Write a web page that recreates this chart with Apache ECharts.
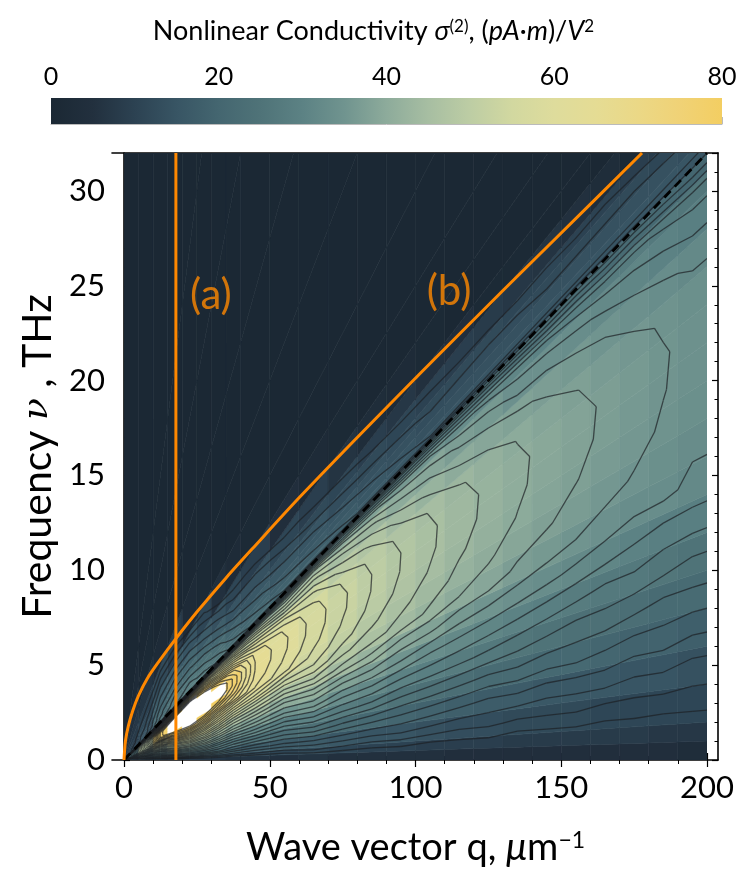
<!DOCTYPE html>
<html>
<head>
<meta charset="utf-8">
<script src="https://cdn.jsdelivr.net/npm/echarts@6/dist/echarts.min.js"></script>
<style>
html, body { margin: 0; padding: 0; background: #fff; }
#main { width: 747px; height: 873px; }
</style>
</head>
<body>
<div id="main"></div>
<script>
// columns: wave vector q (1/um), rows: slope nu/q (THz per 1/um)
var qEdges = [0, 5, 10, 15, 20, 25, 30, 35, 40, 50, 60, 70, 80, 90, 100, 110, 120, 130, 140, 150, 160, 170, 180, 190, 200];
var slopeEdges = [0, 0.005, 0.01, 0.02, 0.03, 0.04, 0.05, 0.06, 0.07, 0.08, 0.09, 0.10, 0.11, 0.12, 0.13, 0.14, 0.15, 0.155,
	0.16, 0.165, 0.17, 0.175, 0.18, 0.19, 0.20, 0.22, 0.25, 0.30, 0.40, 0.55, 0.80, 1.20, 1000];

// sigma(2), one row per slope band, one value per q column
var sigma = [
	[3, 5, 6, 8, 8, 8, 7, 6, 6, 5, 6, 5, 5, 5, 5, 4, 4, 4, 4, 4, 4, 4, 4, 3],
	[5, 11, 13, 16, 17, 16, 15, 13, 12, 11, 12, 11, 10, 10, 9, 9, 9, 8, 8, 8, 8, 8, 7, 7],
	[8, 16, 20, 25, 26, 25, 23, 20, 18, 17, 17, 16, 15, 15, 14, 13, 13, 12, 12, 12, 11, 11, 11, 11],
	[11, 21, 27, 33, 35, 34, 30, 27, 25, 23, 24, 22, 21, 20, 19, 18, 17, 17, 16, 16, 16, 15, 15, 14],
	[14, 27, 34, 42, 44, 42, 38, 34, 32, 29, 30, 28, 27, 25, 24, 23, 22, 22, 21, 21, 20, 19, 19, 18],
	[16, 32, 41, 49, 52, 50, 45, 41, 38, 35, 36, 33, 32, 30, 29, 28, 27, 26, 25, 24, 24, 23, 22, 22],
	[19, 37, 47, 57, 60, 57, 52, 47, 44, 40, 41, 38, 37, 35, 33, 32, 31, 30, 29, 28, 27, 27, 26, 25],
	[21, 42, 55, 66, 69, 65, 59, 54, 50, 46, 47, 44, 42, 39, 38, 36, 35, 34, 33, 32, 31, 30, 29, 29],
	[23, 47, 62, 74, 77, 73, 66, 61, 57, 52, 52, 48, 46, 44, 42, 40, 39, 37, 36, 35, 34, 33, 33, 32],
	[25, 49, 72, 80, 84, 80, 74, 69, 62.4, 58.1, 54.2, 50.9, 48.0, 45.6, 43.7, 41.8, 40.3, 38.9, 37.7, 36.7, 35.7, 34.8, 33.8, 32.9],
	[25, 50, 78, 88, 96, 88, 80, 74, 64.0, 59.6, 55.7, 52.2, 49.3, 46.8, 44.8, 42.8, 41.4, 39.9, 38.7, 37.6, 36.6, 35.7, 34.7, 33.8],
	[25, 50, 78, 92, 100, 96, 84, 77, 64.9, 60.4, 56.4, 52.9, 49.9, 47.4, 45.4, 43.4, 41.9, 40.4, 39.2, 38.1, 37.1, 36.1, 35.1, 34.2],
	[25, 50, 78, 90, 98, 95, 84, 77, 65, 60.5, 56.5, 53, 50, 47.5, 45.5, 43.5, 42, 40.5, 39.3, 38.2, 37.2, 36.2, 35.2, 34.3],
	[25, 49, 73, 83, 90, 84, 78, 73, 64.0, 59.6, 55.7, 52.2, 49.3, 46.8, 44.8, 42.8, 41.4, 39.9, 38.7, 37.6, 36.6, 35.7, 34.7, 33.8],
	[24, 47, 64, 74, 81, 76, 68, 64, 58, 55, 53, 49, 47, 44, 42, 40, 39, 38, 37, 36, 35, 34, 33, 32],
	[22, 43, 55, 64, 70, 66, 59, 55, 51, 47, 48, 45, 43, 40, 39, 37, 36, 34, 34, 33, 32, 31, 30, 29],
	[19, 39, 47, 55, 60, 57, 51, 47, 44, 41, 43, 40, 38, 36, 35, 33, 32, 31, 30, 29, 28, 28, 27, 26],
	[15, 30, 35, 42, 45, 43, 39, 35, 34, 31, 34, 32, 30, 28, 27, 26, 25, 24, 23, 23, 22, 22, 21, 20],
	[10, 15, 24, 28, 30, 29, 27, 24, 22, 20, 19, 18, 17, 16, 15, 15, 15, 15, 15, 15, 15, 15, 15, 15],
	[10, 15, 24, 27, 29, 28, 26, 23, 21, 19, 18, 17, 16, 15, 14, 14, 14, 14, 14, 14, 14, 14, 14, 13],
	[10, 15, 23, 27, 28, 27, 25, 22, 20, 18, 17, 16, 15, 14, 13, 13, 13, 13, 12, 12, 12, 12, 11, 11],
	[10, 15, 23, 26, 28, 26, 24, 21, 19, 17, 16, 15, 14, 13, 12, 12, 12, 11, 11, 10, 10, 9, 8, 7],
	[10, 14, 22, 26, 27, 25, 23, 20, 18, 16, 15, 13, 12, 11, 10, 9, 8, 7, 6, 5, 3, 1, 0, 0],
	[10, 14, 22, 25, 25, 24, 21, 18, 16, 14, 12, 11, 9, 7, 5, 4, 1, 1, 0, 0, 0, 0, 0, 0],
	[10, 14, 21, 23, 23, 21, 18, 15, 14, 11, 9, 6, 3, 2, 1, 0, 0, 0, 0, 0, 0, 0, 0, 0],
	[9, 13, 19, 21, 20, 17, 14, 11, 9, 4, 2, 1, 0, 0, 0, 0, 0, 0, 0, 0, 0, 0, 0, 0],
	[9, 12, 17, 17, 15, 11, 5, 2, 1, 0, 0, 0, 0, 0, 0, 0, 0, 0, 0, 0, 0, 0, 0, 0],
	[8, 10, 12, 9, 2, 1, 0, 0, 0, 0, 0, 0, 0, 0, 0, 0, 0, 0, 0, 0, 0, 0, 0, 0],
	[7, 6, 2, 0, 0, 0, 0, 0, 0, 0, 0, 0, 0, 0, 0, 0, 0, 0, 0, 0, 0, 0, 0, 0],
	[5, 1, 0, 0, 0, 0, 0, 0, 0, 0, 0, 0, 0, 0, 0, 0, 0, 0, 0, 0, 0, 0, 0, 0],
	[2, 0, 0, 0, 0, 0, 0, 0, 0, 0, 0, 0, 0, 0, 0, 0, 0, 0, 0, 0, 0, 0, 0, 0],
	[0, 0, 0, 0, 0, 0, 0, 0, 0, 0, 0, 0, 0, 0, 0, 0, 0, 0, 0, 0, 0, 0, 0, 0]
];

// contour levels drawn over the map
var contourLevels = [10, 12.5, 15, 17.5, 20, 22.5, 25, 27.5, 30, 32.5, 35, 37.5, 40, 42.5, 45, 47.5, 50,
	52.5, 55, 57.5, 60, 62.5, 65, 67.5, 70, 72.5, 75, 77.5, 80];

// colour bar, one colour every 5 units from 0 to 80
var barMin = 0;
var barMax = 80;
var barColors = ['#1b2834', '#22303e', '#2c4252', '#385564', '#446670', '#4f7378', '#5c8284', '#70948f',
	'#8dab9b', '#a7bea2', '#bdcda4', '#d2d8a0', '#dedc9c', '#e5dc94', '#ebd886', '#f0d276', '#f3ce62'];

// line (a): fixed q
var lineAq = [17.8, 17.8];
var lineAnu = [0, 32];
// line (b)
var lineBq = [0, 0.5, 1.5, 3, 5, 8, 12, 17.8, 25, 35, 45, 60.3, 80, 101.4, 130, 161.3, 177.7];
var lineBnu = [0, 1.0, 1.8, 2.6, 3.4, 4.3, 5.2, 6.4, 7.8, 9.6, 11.3, 13.86, 17.0, 20.35, 24.75, 29.5, 32];
// dashed line
var dashQ = [0, 200];
var dashNu = [0, 32];
// labels
var tagNames = ['(a)', '(b)'];
var tagQ = [29.8, 111.5];
var tagNu = [24.5, 24.7];

var orange = '#ff8800';
var font = 'Lato';

function colorOf(v) {
	if (v > barMax) return '#ffffff';
	return echarts.color.lerp((v - barMin) / (barMax - barMin), barColors);
}

var cells = [];
for (var j = 0; j < sigma.length; j++) {
	for (var i = 0; i < sigma[j].length; i++) {
		cells.push([i, j, sigma[j][i]]);
	}
}

// contour geometry: nodes sit at cell centres, with the outer columns repeated at q = 0 and q = 200
var qNodes = [qEdges[0]];
for (var a = 0; a < qEdges.length - 1; a++) qNodes.push((qEdges[a] + qEdges[a + 1]) / 2);
qNodes.push(qEdges[qEdges.length - 1]);
var sNodes = [slopeEdges[0]];
for (var b = 0; b < sigma.length - 1; b++) sNodes.push((slopeEdges[b] + slopeEdges[b + 1]) / 2);

function nodeVal(a, b) {
	var i = Math.min(Math.max(a - 1, 0), qEdges.length - 2);
	var j = Math.max(b - 1, 0);
	return sigma[j][i];
}

var segTable = {
	1: [['L', 'B']], 2: [['B', 'R']], 3: [['L', 'R']], 4: [['R', 'T']],
	5: [['L', 'B'], ['R', 'T']], 6: [['B', 'T']], 7: [['L', 'T']], 8: [['L', 'T']],
	9: [['B', 'T']], 10: [['B', 'R'], ['L', 'T']], 11: [['R', 'T']], 12: [['L', 'R']],
	13: [['B', 'R']], 14: [['L', 'B']]
};

function contourSegments(level) {
	var segs = [];
	function cross(qa, sa, va, qb, sb, vb) {
		var t = (level - va) / (vb - va);
		var q = qa + t * (qb - qa);
		var s = sa + t * (sb - sa);
		return [q, q * s];
	}
	for (var a = 0; a < qNodes.length - 1; a++) {
		for (var b = 0; b < sNodes.length - 1; b++) {
			var q0 = qNodes[a], q1 = qNodes[a + 1], s0 = sNodes[b], s1 = sNodes[b + 1];
			var v00 = nodeVal(a, b), v10 = nodeVal(a + 1, b), v11 = nodeVal(a + 1, b + 1), v01 = nodeVal(a, b + 1);
			var idx = (v00 > level ? 1 : 0) | (v10 > level ? 2 : 0) | (v11 > level ? 4 : 0) | (v01 > level ? 8 : 0);
			if (idx === 0 || idx === 15) continue;
			var pts = {
				B: function () { return cross(q0, s0, v00, q1, s0, v10); },
				R: function () { return cross(q1, s0, v10, q1, s1, v11); },
				T: function () { return cross(q0, s1, v01, q1, s1, v11); },
				L: function () { return cross(q0, s0, v00, q0, s1, v01); }
			};
			segTable[idx].forEach(function (pair) {
				segs.push([pts[pair[0]](), pts[pair[1]]()]);
			});
		}
	}
	return segs;
}

function zip(a, b) {
	return a.map(function (v, k) { return [v, b[k]]; });
}

var myChart = echarts.init(document.getElementById('main'));

var tickLabel = { fontFamily: font, fontSize: 31, color: '#000' };

myChart.setOption({
	animation: false,
	title: {
		text: 'Nonlinear Conductivity {it|σ}{sup|(2)}, ({it|pA·m})/{it|V}{sup|2}',
		left: 'center',
		top: 13,
		textStyle: {
			fontFamily: font,
			fontSize: 27,
			fontWeight: 'normal',
			color: '#000',
			rich: {
				it: { fontFamily: font, fontSize: 27, fontStyle: 'italic', color: '#000' },
				sup: { fontFamily: font, fontSize: 17, verticalAlign: 'top', color: '#000' }
			}
		}
	},

	grid: [
		{ left: 124, right: 40, top: 153, bottom: 113 },
		{ left: 112, right: 29, top: 153, bottom: 113 },
		{ left: 51, right: 25, top: 98, height: 26 }
	],

	xAxis: [
		{
			gridIndex: 0, type: 'value', min: 0, max: 200, interval: 50, position: 'bottom',
			name: 'Wave vector q, {it|μ}m{sup|−1}',
			nameLocation: 'middle',
			nameGap: 69,
			nameTextStyle: {
				fontFamily: font, fontSize: 38, color: '#000',
				rich: {
					it: { fontFamily: font, fontSize: 38, fontStyle: 'italic', color: '#000' },
					sup: { fontFamily: font, fontSize: 23, verticalAlign: 'top', color: '#000' }
				}
			},
			axisLine: { show: false },
			axisTick: { inside: true, length: 7, lineStyle: { color: '#000', width: 1.2 } },
			minorTick: { show: true, splitNumber: 5, length: 4, lineStyle: { color: '#000', width: 1 } },
			axisLabel: Object.assign({ margin: 12 }, tickLabel),
			splitLine: { show: false }
		},
		{
			gridIndex: 0, type: 'value', min: 0, max: 200, interval: 50, position: 'top',
			axisLine: { show: false },
			axisTick: { inside: true, length: 7, lineStyle: { color: '#000', width: 1.2 } },
			minorTick: { show: true, splitNumber: 5, length: 4, lineStyle: { color: '#000', width: 1 } },
			axisLabel: { show: false },
			splitLine: { show: false }
		},
		{
			gridIndex: 1, type: 'value', min: 0, max: 1, position: 'bottom',
			axisLine: { lineStyle: { color: '#000', width: 1.6 } },
			axisTick: { show: false }, axisLabel: { show: false }, splitLine: { show: false }
		},
		{
			gridIndex: 1, type: 'value', min: 0, max: 1, position: 'top',
			axisLine: { lineStyle: { color: '#000', width: 1.6 } },
			axisTick: { show: false }, axisLabel: { show: false }, splitLine: { show: false }
		},
		{
			gridIndex: 2, type: 'value', min: barMin, max: barMax, interval: 20, position: 'top',
			axisLine: { lineStyle: { color: '#bbbbbb', width: 1 } },
			axisTick: { length: 7, lineStyle: { color: '#bbbbbb', width: 1 } },
			minorTick: { show: true, splitNumber: 4, length: 4, lineStyle: { color: '#bbbbbb', width: 1 } },
			axisLabel: { margin: 9, fontFamily: font, fontSize: 25, color: '#000' },
			splitLine: { show: false }
		}
	],

	yAxis: [
		{
			gridIndex: 0, type: 'value', min: 0, max: 32, interval: 5, position: 'left', offset: 12,
			name: 'Frequency {gr|ν} , THz',
			nameLocation: 'middle',
			nameGap: 42,
			nameTextStyle: {
				fontFamily: font, fontSize: 41, color: '#000',
				rich: { gr: { fontFamily: 'DejaVu Serif', fontSize: 36, fontStyle: 'italic', color: '#000' } }
			},
			axisLine: { lineStyle: { color: '#000', width: 1.6 } },
			axisTick: { inside: true, length: 6, lineStyle: { color: '#000', width: 1.2 } },
			axisLabel: Object.assign({
				margin: 7,
				formatter: function (v) { return v % 5 === 0 ? String(v) : ''; }
			}, tickLabel),
			splitLine: { show: false }
		},
		{
			gridIndex: 0, type: 'value', min: 0, max: 32, interval: 1, position: 'left', offset: 12,
			axisLine: { show: false },
			axisTick: { inside: true, length: 3.5, lineStyle: { color: '#000', width: 1 } },
			axisLabel: { show: false }, splitLine: { show: false }
		},
		{
			gridIndex: 0, type: 'value', min: 0, max: 32, interval: 5, position: 'right', offset: 11,
			axisLine: { lineStyle: { color: '#000', width: 1.6 } },
			axisTick: { inside: true, length: 6, lineStyle: { color: '#000', width: 1.2 } },
			axisLabel: { show: false }, splitLine: { show: false }
		},
		{
			gridIndex: 0, type: 'value', min: 0, max: 32, interval: 1, position: 'right', offset: 11,
			axisLine: { show: false },
			axisTick: { inside: true, length: 3.5, lineStyle: { color: '#000', width: 1 } },
			axisLabel: { show: false }, splitLine: { show: false }
		},
		{ gridIndex: 1, type: 'value', min: 0, max: 1, show: false },
		{ gridIndex: 2, type: 'value', min: 0, max: 1, show: false }
	],

	series: [
		{
			name: 'sigma',
			type: 'custom',
			xAxisIndex: 0,
			yAxisIndex: 0,
			clip: true,
			silent: true,
			data: cells,
			renderItem: function (params, api) {
				var i = api.value(0), j = api.value(1), v = api.value(2);
				var q0 = qEdges[i], q1 = qEdges[i + 1];
				var s0 = slopeEdges[j], s1 = slopeEdges[j + 1];
				var pts = [
					api.coord([q0, q0 * s0]),
					api.coord([q1, q1 * s0]),
					api.coord([q1, q1 * s1]),
					api.coord([q0, q0 * s1])
				];
				var c = colorOf(v);
				return {
					type: 'polygon',
					shape: { points: pts },
					style: { fill: c, stroke: c, lineWidth: 0.6 }
				};
			}
		},
		{
			name: 'contours',
			type: 'custom',
			xAxisIndex: 0,
			yAxisIndex: 0,
			clip: true,
			silent: true,
			data: contourLevels.map(function (l) { return [l]; }),
			renderItem: function (params, api) {
				var segs = contourSegments(api.value(0));
				return {
					type: 'group',
					children: segs.map(function (sg) {
						var p = api.coord(sg[0]), r = api.coord(sg[1]);
						return {
							type: 'line',
							shape: { x1: p[0], y1: p[1], x2: r[0], y2: r[1] },
							style: { stroke: 'rgba(28,32,36,0.7)', lineWidth: 1.3 }
						};
					})
				};
			},
			z: 2
		},
		{
			name: 'colorbar',
			type: 'custom',
			xAxisIndex: 4,
			yAxisIndex: 5,
			silent: true,
			data: [[barMin, barMax]],
			renderItem: function (params, api) {
				var a = api.coord([api.value(0), 0]);
				var b = api.coord([api.value(1), 1]);
				return {
					type: 'rect',
					shape: { x: a[0], y: b[1], width: b[0] - a[0], height: a[1] - b[1] },
					style: {
						fill: {
							type: 'linear', x: 0, y: 0, x2: 1, y2: 0,
							colorStops: barColors.map(function (c, k) {
								return { offset: k / (barColors.length - 1), color: c };
							})
						}
					}
				};
			}
		},
		{
			name: 'dashed',
			type: 'line',
			xAxisIndex: 0,
			yAxisIndex: 0,
			data: zip(dashQ, dashNu),
			symbol: 'none',
			lineStyle: { color: '#000', width: 2.8, type: [9, 6] },
			z: 3
		},
		{
			name: '(a)',
			type: 'line',
			xAxisIndex: 0,
			yAxisIndex: 0,
			data: zip(lineAq, lineAnu),
			symbol: 'none',
			lineStyle: { color: orange, width: 3 },
			z: 4
		},
		{
			name: '(b)',
			type: 'line',
			xAxisIndex: 0,
			yAxisIndex: 0,
			data: zip(lineBq, lineBnu),
			smooth: 0.3,
			symbol: 'none',
			lineStyle: { color: orange, width: 3 },
			z: 4
		},
		{
			name: 'tags',
			type: 'scatter',
			xAxisIndex: 0,
			yAxisIndex: 0,
			symbolSize: 0,
			data: tagNames.map(function (n, k) { return { name: n, value: [tagQ[k], tagNu[k]] }; }),
			label: {
				show: true,
				position: 'inside',
				formatter: '{b}',
				fontFamily: font,
				fontSize: 42,
				color: orange
			},
			z: 5
		}
	]
});
</script>
</body>
</html>
